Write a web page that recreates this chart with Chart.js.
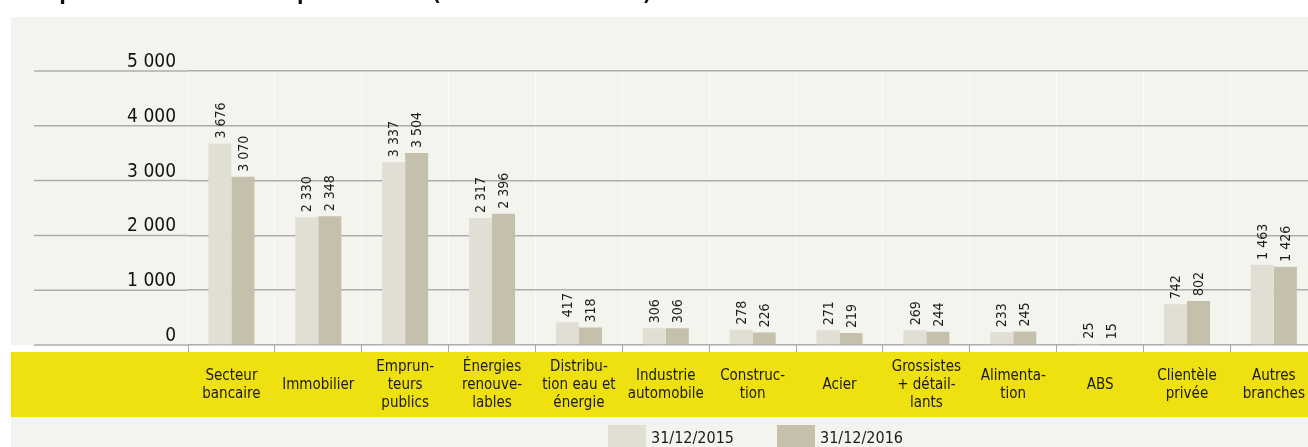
<!DOCTYPE html>
<html>
<head>
<meta charset="utf-8">
<script src="https://cdn.jsdelivr.net/npm/chart.js@4.4.1/dist/chart.umd.min.js"></script>
<style>
  html, body { margin: 0; padding: 0; background: #fff; overflow: hidden; }
  #wrap { width: 1308px; height: 447px; overflow: hidden; position: relative; }
  canvas { display: block; }
</style>
</head>
<body>
<div id="wrap"><canvas id="chart" width="1320" height="447"></canvas></div>
<script>
const categories = [
    ["Secteur", "bancaire"],
    "Immobilier",
    ["Emprun-", "teurs", "publics"],
    ["Énergies", "renouve-", "lables"],
    ["Distribu-", "tion eau et", "énergie"],
    ["Industrie", "automobile"],
    ["Construc-", "tion"],
    "Acier",
    ["Grossistes", "+ détail-", "lants"],
    ["Alimenta-", "tion"],
    "ABS",
    ["Clientèle", "privée"],
    ["Autres", "branches"]
];
const values2015 = [3676, 2330, 3337, 2317, 417, 306, 278, 271, 269, 233, 25, 742, 1463];
const values2016 = [3070, 2348, 3504, 2396, 318, 306, 226, 219, 244, 245, 15, 802, 1426];
const seriesLabels = ["31/12/2015", "31/12/2016"];
const seriesColors = ["#e1dfd3", "#c5c0ab"];
const yTicks = [0, 1000, 2000, 3000, 4000, 5000];
const title = "Risque de crédit maximal par branche (en millions d'euros)";

const FONT = "'DejaVu Sans Condensed', 'DejaVu Sans', sans-serif";

function fmt(v) {
    return String(v).replace(/\B(?=(\d{3})+(?!\d))/g, " ");
}

// panel, yellow band, title and the grid lines running under the value labels
const backdrop = {
    id: 'backdrop',
    beforeDraw(chart) {
        const ctx = chart.ctx;
        const area = chart.chartArea;
        ctx.save();
        ctx.fillStyle = '#ffffff';
        ctx.fillRect(0, 0, chart.width, chart.height);
        ctx.fillStyle = '#f4f4ef';
        ctx.fillRect(11, 17, chart.width - 11, area.bottom - 17);
        ctx.fillRect(11, 417, chart.width - 11, chart.height - 417);
        ctx.fillStyle = '#efe00f';
        ctx.fillRect(11, 352, chart.width - 11, 65);

        // title sits mostly above the top edge, only its foot shows
        ctx.fillStyle = '#111';
        ctx.font = "bold 21px " + FONT;
        ctx.textBaseline = 'alphabetic';
        ctx.fillText(title, 20, 0);

        const y = chart.scales.y;
        ctx.strokeStyle = '#acacac';
        ctx.lineWidth = 1.5;
        yTicks.forEach(v => {
            const py = y.getPixelForValue(v);
            ctx.beginPath();
            ctx.moveTo(34, py);
            ctx.lineTo(area.left, py);
            ctx.stroke();
        });
        ctx.restore();
    }
};

// rotated values above each bar
const barValues = {
    id: 'barValues',
    afterDatasetsDraw(chart) {
        const ctx = chart.ctx;
        ctx.save();
        ctx.fillStyle = '#1a1a1a';
        ctx.font = "14px " + FONT;
        ctx.textAlign = 'left';
        ctx.textBaseline = 'middle';
        chart.data.datasets.forEach((ds, i) => {
            chart.getDatasetMeta(i).data.forEach((bar, j) => {
                ctx.save();
                ctx.translate(bar.x + 1, bar.y - 5);
                ctx.rotate(-Math.PI / 2);
                ctx.fillText(fmt(ds.data[j]), 0, 0);
                ctx.restore();
            });
        });
        ctx.restore();
    }
};

// legend under the yellow band
const legendBoxes = {
    id: 'legendBoxes',
    afterDraw(chart) {
        const ctx = chart.ctx;
        const xs = [608, 777];
        ctx.save();
        ctx.font = "16px " + FONT;
        ctx.textBaseline = 'alphabetic';
        chart.data.datasets.forEach((ds, i) => {
            ctx.fillStyle = ds.backgroundColor;
            ctx.fillRect(xs[i], 425, 38, 24);
            ctx.fillStyle = '#1a1a1a';
            ctx.fillText(ds.label, xs[i] + 43, 443);
        });
        ctx.restore();
    }
};

const ctx = document.getElementById("chart").getContext("2d");

new Chart(ctx, {
    type: 'bar',
    data: {
        labels: categories,
        datasets: [
            { label: seriesLabels[0], data: values2015, backgroundColor: seriesColors[0] },
            { label: seriesLabels[1], data: values2016, backgroundColor: seriesColors[1] }
        ]
    },
    options: {
        responsive: false,
        animation: false,
        layout: { padding: { top: 71, right: 1, left: 0, bottom: 0 } },
        datasets: { bar: { categoryPercentage: 0.53, barPercentage: 1 } },
        plugins: {
            legend: { display: false },
            tooltip: { enabled: false }
        },
        scales: {
            x: {
                grid: {
                    color: 'rgba(255,255,255,0.5)',
                    tickColor: '#a8a8a8',
                    tickLength: 7,
                    lineWidth: 1,
                    offset: true
                },
                border: { display: false },
                ticks: {
                    color: '#1a1a1a',
                    font: { family: FONT, size: 15, lineHeight: 1.2 },
                    padding: 15,
                    crossAlign: 'center',
                    maxRotation: 0,
                    autoSkip: false
                },
                afterFit: s => { s.height = 102; }
            },
            y: {
                min: 0,
                max: 5000,
                afterBuildTicks: s => { s.ticks = yTicks.map(v => ({ value: v })); },
                grid: { color: '#acacac', lineWidth: 1.5, drawTicks: false },
                border: { display: false },
                ticks: {
                    color: '#111',
                    font: { family: FONT, size: 19 },
                    padding: 12,
                    labelOffset: -9,
                    callback: v => fmt(v)
                },
                afterFit: s => { s.width = 188; }
            }
        }
    },
    plugins: [backdrop, barValues, legendBoxes]
});
</script>
</body>
</html>
